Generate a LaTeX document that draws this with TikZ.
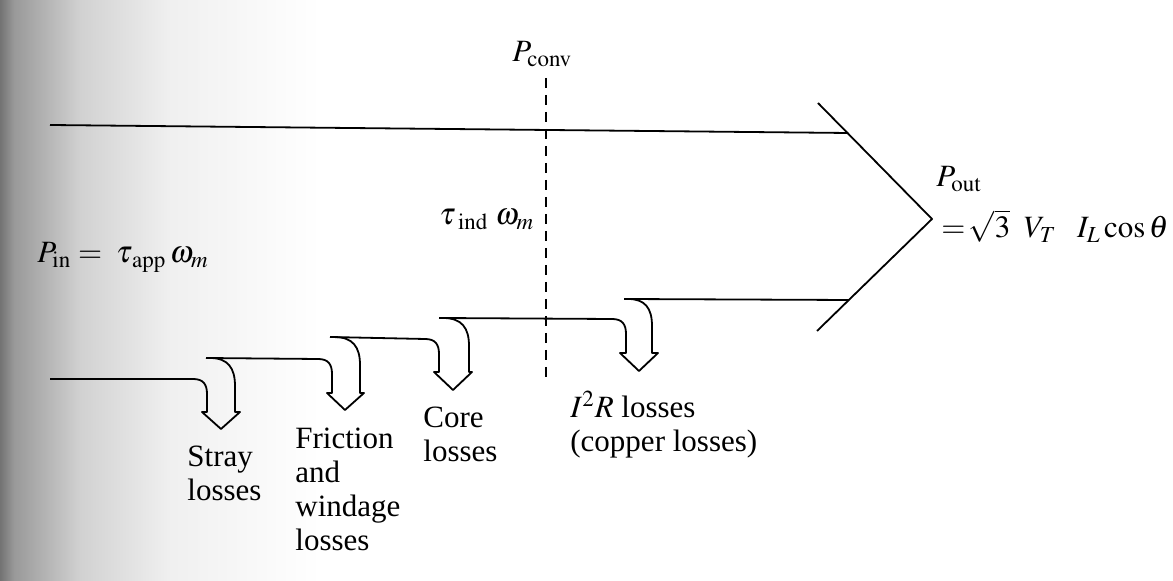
\documentclass[tikz,border=0pt]{standalone}
\usepackage{mathptmx}
\usepackage{fontspec}
\setmainfont{Liberation Serif}
\begin{document}
\begin{tikzpicture}[x=0.5pt,y=-0.5pt,line join=round,
  flow/.style={draw=black,line width=0.9pt},
  conv/.style={draw=black,line width=0.8pt,dash pattern=on 5pt off 3.5pt},
  lbl/.style={inner sep=0pt,anchor=base west,font=\fontsize{15.5}{17}\selectfont}]
\useasboundingbox (0,0) rectangle (1173,581);
% scan shading on the left edge
\shade[left color=black!55,right color=black!40] (0,0) rectangle (14,581);
\shade[left color=black!40,right color=black!18] (14,0) rectangle (80,581);
\shade[left color=black!18,right color=black!6] (80,0) rectangle (170,581);
\shade[left color=black!6,right color=white] (170,0) rectangle (320,581);
% main band
\draw[flow] (50,125) -- (848,133);
\draw[flow] (818,103) -- (932,219) -- (817,331);
% stray losses
\draw[flow] (50,379) -- (193,379) .. controls (203,379) and (207,384) .. (207,394)
  -- (207,412) -- (202,412) -- (221,429) -- (240,412) -- (235,412) -- (235,386)
  .. controls (235,368) and (228,358) .. (210,358);
% friction and windage
\draw[flow] (206,358) -- (318,359) .. controls (328,359) and (332,364) .. (332,374)
  -- (332,393) -- (327,393) -- (345,410) -- (364,393) -- (360,393) -- (360,365)
  .. controls (360,347) and (353,337) .. (334,337);
% core
\draw[flow] (330,337) -- (425,339) .. controls (435,339) and (439,344) .. (439,354)
  -- (439,372) -- (434,372) -- (453,390) -- (472,372) -- (469,372) -- (469,346)
  .. controls (469,328) and (462,318) .. (443,318);
% copper
\draw[flow] (439,318) -- (612,319) .. controls (622,319) and (626,324) .. (626,334)
  -- (626,353) -- (620,353) -- (639,371) -- (658,353) -- (652,353) -- (652,326)
  .. controls (652,308) and (645,299) .. (628,299);
\draw[flow] (624,299) -- (849,300);
% P_conv boundary
\draw[conv] (546,78) -- (546,381);
% labels
\node[lbl] (pconv) at (512,62) {$P_{\mathrm{conv}}$};
\node[lbl] (tind) at (439,225) {$\tau_{\;\mathrm{ind}}\;\omega_m$};
\node[lbl] (pin) at (37,263) {$P_{\mathrm{in}} =\; \tau_{\,\mathrm{app}}\,\omega_m$};
\node[lbl] (pout) at (936,187) {$P_{\mathrm{out}}$};
\node[lbl] (poutx) at (941,238) {$=\!\sqrt{3}\;\;V_T\;\;\;I_L\cos\theta$};
\node[lbl] (stray) at (187,467) {\begin{tabular}[t]{@{}l@{}}Stray\\losses\end{tabular}};
\node[lbl] (fric) at (295,449) {\begin{tabular}[t]{@{}l@{}}Friction\\and\\windage\\losses\end{tabular}};
\node[lbl] (core) at (423,428) {\begin{tabular}[t]{@{}l@{}}Core\\losses\end{tabular}};
\node[lbl] (cu) at (570,418) {\begin{tabular}[t]{@{}l@{}}$I^2R$ losses\\(copper losses)\end{tabular}};
\end{tikzpicture}
\end{document}
